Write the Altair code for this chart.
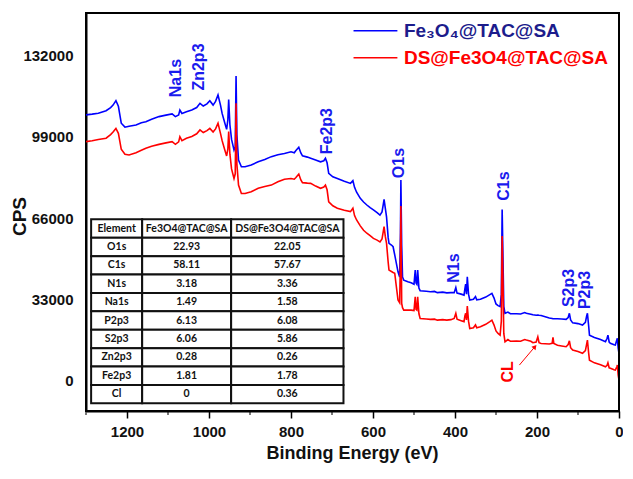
import altair as alt
import pandas as pd

# ---------------- data ----------------
energy = [1300, 1285, 1270, 1251, 1240, 1234, 1227, 1221, 1214, 1205, 1195, 1178, 1165, 1154, 1140,
          1122, 1105, 1090, 1082, 1074, 1071, 1066, 1055, 1042, 1030, 1022, 1014, 1005, 998, 990,
          984, 978, 972, 968, 962, 957, 954, 952, 949, 945, 939, 936, 934, 932, 928, 921, 912, 897,
          880, 864, 848, 832, 816, 800, 792, 788, 781, 776, 772, 760, 752, 740, 728, 720, 716, 712,
          708, 698, 687, 670, 655, 649, 645, 640, 631, 623, 615, 607, 599, 590, 583, 578, 575, 573,
          570, 567, 563, 561, 555, 551, 547, 543, 539, 535, 533, 532, 530, 528, 525, 515, 507, 500,
          497, 495, 493, 491, 488, 485, 470, 460, 450, 443, 430, 420, 410, 402, 398, 395, 385, 378,
          376, 374, 372, 370, 367, 364, 355, 350, 347, 338, 325, 315, 310, 305, 300, 295, 290, 287,
          285, 283, 281, 278, 271, 265, 250, 240, 230, 226, 215, 210, 202, 198, 195, 190, 170, 163,
          161, 159, 150, 140, 129, 124, 121, 118, 113, 100, 89, 82, 79, 77, 74, 72, 60, 45, 33, 29,
          27, 24, 21, 12, 9, 5, 4, 2, 0]

fe3o4_tac_sa = [108000, 108300, 108700, 109700, 111000, 112000, 113800, 111500, 104600, 103000, 103400,
                103900, 104800, 105200, 106200, 107300, 107900, 108400, 107300, 108000, 110000, 108600,
                109300, 110000, 111000, 112700, 111600, 112500, 113800, 112000, 113500, 116100, 112000,
                108600, 105000, 102100, 106000, 114300, 104000, 98000, 93700, 95000, 123800, 100000,
                89600, 86900, 86900, 87600, 88900, 89800, 91000, 91800, 92300, 93000, 92600, 93500,
                94800, 92500, 91300, 90800, 90300, 89600, 88900, 89300, 90300, 88500, 84200, 82800,
                82100, 81000, 80100, 81200, 78500, 76500, 74000, 72500, 71300, 70200, 69300, 68200,
                67200, 68500, 71500, 73600, 70000, 66500, 58000, 55700, 55000, 54300, 51000, 47500,
                44100, 42000, 60000, 81500, 55000, 42000, 40700, 40000, 39600, 39000, 44800, 39500,
                39000, 44800, 37500, 36400, 36200, 36000, 36100, 35600, 35800, 35500, 35600, 35600,
                37700, 35400, 35000, 34600, 37000, 39100, 35000, 42100, 35000, 32600, 32900, 34000,
                32700, 32900, 33800, 34800, 35300, 33500, 31000, 30300, 29900, 35000, 69500, 50000,
                30000, 27200, 27700, 27000, 27000, 26900, 27500, 27200, 26800, 26600, 26400, 26500,
                26400, 26300, 25300, 25100, 25000, 25000, 25000, 24900, 24700, 25500, 27200, 24500,
                23300, 23000, 22400, 23500, 26000, 27200, 22000, 18300, 17300, 16500, 15600, 17000,
                18300, 15500, 15000, 14400, 14300, 16500, 17000, 13000, 10900]

ds_fe3o4_tac_sa = [97100, 97500, 98000, 98500, 100000, 101000, 102500, 100500, 94000, 92000, 91700,
                   92600, 93600, 94400, 95200, 96000, 96600, 97100, 96000, 97000, 99100, 97500, 98500,
                   99200, 100300, 101900, 100800, 101600, 102500, 101000, 102300, 104600, 100500, 97500,
                   94000, 91300, 94000, 101200, 92000, 86000, 82100, 84000, 112700, 88000, 79400, 76000,
                   76000, 76700, 78100, 78800, 79400, 80800, 81800, 82100, 81800, 82500, 83900, 81500,
                   80400, 80200, 80100, 79000, 78100, 78600, 79400, 77500, 72600, 71000, 70000, 69200,
                   68600, 70000, 67000, 65200, 62800, 61000, 59800, 58800, 57700, 57000, 56300, 57500,
                   60500, 62500, 58500, 55700, 48000, 44800, 44200, 43800, 43500, 38000, 32600, 31500,
                   50000, 70900, 31200, 29500, 28500, 28500, 28500, 28300, 33900, 28800, 28500, 33900,
                   27000, 25100, 24900, 24700, 24800, 24400, 24600, 24400, 24600, 25100, 27200, 24800,
                   24200, 23800, 26000, 27200, 24500, 30100, 24000, 21000, 21300, 22500, 21300, 21700,
                   22700, 23800, 24400, 22500, 20000, 19000, 18300, 24000, 58700, 40000, 19000, 15600,
                   16500, 15800, 15900, 15800, 16500, 16300, 15800, 15200, 15500, 17600, 15200, 14900,
                   14700, 15000, 17400, 14900, 14200, 13900, 13600, 14500, 16000, 13200, 12200, 11600,
                   10900, 12000, 14500, 16300, 11000, 8100, 7000, 6200, 5400, 6000, 7000, 5000, 4800,
                   4200, 4100, 5500, 6100, 2000, 0]

series_names = ["Fe₃O₄@TAC@SA", "DS@Fe3O4@TAC@SA"]

peak_labels = ["Na1s", "Zn2p3", "Fe2p3", "O1s", "C1s", "N1s", "S2p3", "P2p3"]
peak_label_ev = [1080, 1024, 711, 537, 280, 402, 123, 84]
peak_label_cps = [123000, 127500, 101400, 88400, 79000, 45600, 37500, 36700]

cl_label = "CL"
cl_label_ev = 270
cl_label_cps = 3300
cl_arrow_ev = [243, 205]
cl_arrow_cps = [6100, 13600]

major_ticks_ev = [1200, 1000, 800, 600, 400, 200, 0]
minor_ticks_ev = [1300, 1100, 900, 700, 500, 300, 100]
y_ticks_cps = [0, 33000, 66000, 99000, 132000]

table_header = ["Element", "Fe3O4@TAC@SA", "DS@Fe3O4@TAC@SA"]
table_elements = ["O1s", "C1s", "N1s", "Na1s", "P2p3", "S2p3", "Zn2p3", "Fe2p3", "Cl"]
table_fe3o4 = ["22.93", "58.11", "3.18", "1.49", "6.13", "6.06", "0.28", "1.81", "0"]
table_ds = ["22.05", "57.67", "3.36", "1.58", "6.08", "5.86", "0.26", "1.78", "0.36"]

# ---------------- layout / style constants ----------------
BLUE = "#0000ff"
RED = "#ff0000"
LABEL_BLUE = "#1a1aee"
NAVY = "#1c1c8c"
INK = "black"
FONT = "Liberation Sans"

X_DOMAIN = [0, 1300]
Y_DOMAIN = [-12600, 149500]

TABLE_COL_EDGES = [1287.5, 1163, 946, 672]   # eV
TABLE_TOP = 65470                            # CPS
TABLE_ROW_H = 7496                           # CPS

LEGEND_LINE_EV = [647.5, 540.5]
LEGEND_TEXT_EV = 524.6
LEGEND_CPS = [142300, 131300]

# ---------------- frames ----------------
spec_blue = pd.DataFrame({"ev": energy, "cps": fe3o4_tac_sa})
spec_red = pd.DataFrame({"ev": energy, "cps": ds_fe3o4_tac_sa})
peaks = pd.DataFrame({"ev": peak_label_ev, "cps": peak_label_cps, "label": peak_labels})
cl_df = pd.DataFrame({"ev": [cl_label_ev], "cps": [cl_label_cps], "label": [cl_label]})
arrow_df = pd.DataFrame({"ev": [cl_arrow_ev[0]], "ev2": [cl_arrow_ev[1]],
                         "cps": [cl_arrow_cps[0]], "cps2": [cl_arrow_cps[1]]})
arrowhead_df = pd.DataFrame({"ev": [cl_arrow_ev[1]], "cps": [cl_arrow_cps[1]]})
frame_df = pd.DataFrame({"ev": [float(X_DOMAIN[1])], "ev2": [float(X_DOMAIN[0])],
                         "cps": [float(Y_DOMAIN[1])], "cps2": [float(Y_DOMAIN[0])]})
minor_df = pd.DataFrame({"ev": minor_ticks_ev, "cps": [Y_DOMAIN[0]] * len(minor_ticks_ev)})

legend_df = pd.DataFrame({
    "ev": [LEGEND_LINE_EV[0]] * 2, "ev2": [LEGEND_LINE_EV[1]] * 2,
    "cps": LEGEND_CPS, "series": series_names,
    "tev": [LEGEND_TEXT_EV] * 2,
})

rows = [table_header] + [[e, a, b] for e, a, b in zip(table_elements, table_fe3o4, table_ds)]
cells = []
for r, row in enumerate(rows):
    for c, txt in enumerate(row):
        x0, x1 = TABLE_COL_EDGES[c], TABLE_COL_EDGES[c + 1]
        y0 = TABLE_TOP - r * TABLE_ROW_H
        y1 = TABLE_TOP - (r + 1) * TABLE_ROW_H
        cells.append({"ev": x0, "ev2": x1, "cps": y0, "cps2": y1,
                      "xc": (x0 + x1) / 2, "yc": (y0 + y1) / 2, "text": txt})
cells_df = pd.DataFrame(cells)

# ---------------- scales / axes ----------------
x_scale = alt.Scale(domain=X_DOMAIN, reverse=True, nice=False, zero=False)
y_scale = alt.Scale(domain=Y_DOMAIN, nice=False, zero=False)

x_axis = alt.Axis(
    title="Binding Energy (eV)", orient="bottom", format="d",
    values=major_ticks_ev,
    tickSize=7, tickWidth=1.5, tickColor=INK, ticks=True,
    domain=True, domainColor=INK, domainWidth=2, grid=False,
    labelFont=FONT, labelFontSize=15, labelFontWeight="bold", labelColor="#111",
    labelPadding=6, labelFlush=False, labelOverlap=False,
    titleFont=FONT, titleFontSize=18, titleFontWeight="bold", titleColor="#111",
    titleX=266, titleY=42, titleBaseline="middle", titleAlign="center",
)
y_axis = alt.Axis(
    title="CPS", format="d",
    values=y_ticks_cps,
    ticks=False, domain=True, domainColor=INK, domainWidth=2, grid=False,
    labelFont=FONT, labelFontSize=15, labelFontWeight="bold", labelColor="#111",
    labelPadding=13,
    titleFont=FONT, titleFontSize=19, titleFontWeight="bold", titleColor="#111",
    titleX=-67, titleY=203, titleBaseline="middle", titleAlign="center", titleAngle=270,
)


def X(f="ev"):
    return alt.X(f"{f}:Q", scale=x_scale, axis=x_axis)


def Y(f="cps"):
    return alt.Y(f"{f}:Q", scale=y_scale, axis=y_axis)


# ---------------- layers ----------------
line_blue = alt.Chart(spec_blue).mark_line(color=BLUE, strokeWidth=1.6).encode(
    x=X(), y=Y(), order="ev:Q")
line_red = alt.Chart(spec_red).mark_line(color=RED, strokeWidth=1.6).encode(
    x=X(), y=Y(), order="ev:Q")

peak_text = alt.Chart(peaks).mark_text(
    angle=270, font=FONT, fontSize=16, fontWeight="bold", color=LABEL_BLUE,
    align="center", baseline="middle").encode(x=X(), y=Y(), text="label:N")

cl_text = alt.Chart(cl_df).mark_text(
    angle=270, font=FONT, fontSize=16, fontWeight="bold", color=RED,
    align="center", baseline="middle").encode(x=X(), y=Y(), text="label:N")

arrow = alt.Chart(arrow_df).mark_rule(color=RED, strokeWidth=1).encode(
    x=X(), x2="ev2:Q", y=Y(), y2="cps2:Q")
arrowhead = alt.Chart(arrowhead_df).mark_point(
    shape="triangle-up", angle=40, size=28, filled=True, color=RED, opacity=1).encode(
    x=X(), y=Y())

legend_lines = alt.Chart(legend_df).mark_rule(strokeWidth=1.6).encode(
    x=X(), x2="ev2:Q", y=Y(),
    color=alt.Color("series:N", scale=alt.Scale(domain=series_names, range=[BLUE, RED]), legend=None))
legend_text = alt.Chart(legend_df).mark_text(
    font=FONT, fontSize=19, fontWeight="bold", align="left", baseline="middle").encode(
    x=X("tev"), y=Y(), text="series:N",
    color=alt.Color("series:N", scale=alt.Scale(domain=series_names, range=[NAVY, RED]), legend=None))

table_rects = alt.Chart(cells_df).mark_rect(fill="white", stroke="#111", strokeWidth=2).encode(
    x=X(), x2="ev2:Q", y=Y(), y2="cps2:Q")
table_text = alt.Chart(cells_df).mark_text(
    font="Lato", fontSize=10.5, fontWeight="bold", color="#111",
    align="center", baseline="middle").encode(x=X("xc"), y=Y("yc"), text="text:N")

# top and right edges of the plot frame (left/bottom come from the axis domains)
frame_top = alt.Chart(frame_df).mark_rule(color=INK, strokeWidth=2).encode(
    x=X(), x2="ev2:Q", y=Y())
frame_right = alt.Chart(frame_df).mark_rule(color=INK, strokeWidth=2).encode(
    x=X("ev2"), y=Y(), y2="cps2:Q")

# minor x ticks (every odd hundred), hanging below the bottom edge
minor_ticks = alt.Chart(minor_df).mark_tick(
    orient="vertical", size=4, thickness=1.5, color=INK, yOffset=2).encode(
    x=X(), y=Y())

chart = alt.layer(
    line_blue, line_red, peak_text, cl_text, arrow, arrowhead,
    legend_lines, legend_text, table_rects, table_text,
    frame_top, frame_right, minor_ticks,
).resolve_scale(color="independent").properties(
    width=533, height=398,
    autosize=alt.AutoSizeParams(type="none"),
    padding={"left": 78, "top": 5, "right": 4, "bottom": 54},
    background="white",
).configure_view(stroke=INK, strokeWidth=2)

chart.save("out.html", embed_options={"renderer": "svg", "actions": False})
